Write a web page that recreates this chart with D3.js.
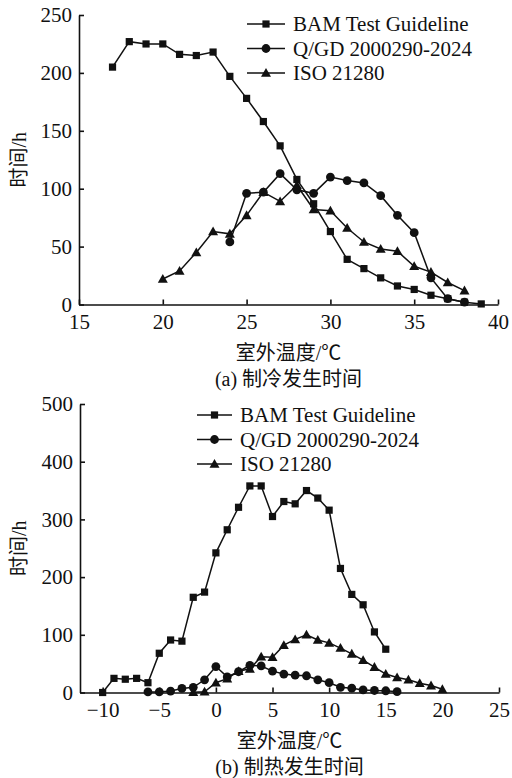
<!DOCTYPE html>
<html>
<head>
<meta charset="utf-8">
<script src="https://cdn.jsdelivr.net/npm/d3@7"></script>
<style>
  body { margin: 0; background: #fff; }
  svg, svg text { font-family: "Liberation Serif", "Times New Roman", "Noto Sans CJK SC", serif; }
</style>
</head>
<body>
<div id="chart"></div>
<script>
'use strict';

const seriesNames = ['BAM Test Guideline', 'Q/GD 2000290-2024', 'ISO 21280'];
const markerShapes = ['square', 'circle', 'triangle'];

// (a) cooling
const coolBamT = [17, 18, 19, 20, 21, 22, 23, 24, 25, 26, 27, 28, 29, 30, 31, 32, 33, 34, 35, 36, 37, 38, 39];
const coolBam = [205, 227, 225, 225, 216, 215, 218, 197, 178, 158, 137, 108, 87, 63, 39, 31, 23, 16, 13, 8, 5, 2, 0.5];
const coolQgdT = [24, 25, 26, 27, 28, 29, 30, 31, 32, 33, 34, 35, 36, 37, 38];
const coolQgd = [54, 96, 97, 113, 99, 96, 110, 107, 105, 94, 77, 62, 23, 5, 2];
const coolIsoT = [20, 21, 22, 23, 24, 25, 26, 27, 28, 29, 30, 31, 32, 33, 34, 35, 36, 37, 38];
const coolIso = [22, 29, 45, 63, 61, 77, 97, 89, 103, 82, 81, 66, 54, 48, 46, 33, 28, 19, 12];

// (b) heating
const heatBamT = [-10, -9, -8, -7, -6, -5, -4, -3, -2, -1, 0, 1, 2, 3, 4, 5, 6, 7, 8, 9, 10, 11, 12, 13, 14, 15];
const heatBam = [0, 24.5, 23, 24.5, 17, 68, 91, 89, 165, 174, 242, 282, 321, 358, 358, 305, 331, 327, 350, 337, 316, 215, 170, 152, 105, 75];
const heatQgdT = [-6, -5, -4, -3, -2, -1, 0, 1, 2, 3, 4, 5, 6, 7, 8, 9, 10, 11, 12, 13, 14, 15, 16];
const heatQgd = [1, 1, 2.5, 7, 9, 22, 45, 27, 36, 47, 46, 37, 32, 30, 29, 22, 17, 9, 7.5, 4.5, 3.5, 3, 1.5];
const heatIsoT = [-2, -1, 0, 1, 2, 3, 4, 5, 6, 7, 8, 9, 10, 11, 12, 13, 14, 15, 16, 17, 18, 19, 20];
const heatIso = [0.6, 1.3, 17, 24, 37, 41, 62, 61, 82, 92, 100, 91, 86, 77, 67, 56, 44, 32, 26, 22, 16, 12, 5.5];

const coolXTicks = [15, 20, 25, 30, 35, 40];
const coolYTicks = [0, 50, 100, 150, 200, 250];
const heatXTicks = [-10, -5, 0, 5, 10, 15, 20, 25];
const heatYTicks = [0, 100, 200, 300, 400, 500];

const xTitle = '室外温度/℃';
const yTitle = '时间/h';
const captionA = '(a) 制冷发生时间';
const captionB = '(b) 制热发生时间';

const FONT = '"Liberation Serif", "Times New Roman", "Noto Sans CJK SC", serif';

const svg = d3.select('#chart').append('svg')
    .attr('width', 512)
    .attr('height', 778)
    .attr('font-family', FONT);

const fmt = d => d < 0 ? '\u2212' + Math.abs(d) : String(d);

function marker(g, shape) {
    if (shape === 'square') {
        g.append('rect').attr('x', -3.6).attr('y', -3.6).attr('width', 7.2).attr('height', 7.2);
    } else if (shape === 'circle') {
        g.append('circle').attr('r', 4.4);
    } else {
        g.append('path').attr('d', 'M0,-5L5,3.8L-5,3.8Z');
    }
}

function styleAxis(a) {
    a.attr('font-family', FONT).attr('font-size', 21);
    a.selectAll('text').attr('fill', '#111');
    a.selectAll('line,path').attr('stroke', '#111').attr('stroke-width', 1.6);
}

function panel(opts) {
    const x = d3.scaleLinear().domain(opts.xDomain).range([opts.left, opts.right]);
    const y = d3.scaleLinear().domain(opts.yDomain).range([opts.bottom, opts.top]);
    const g = svg.append('g');

    g.append('g')
        .attr('transform', `translate(0,${opts.bottom})`)
        .call(d3.axisBottom(x).tickValues(opts.xTicks).tickFormat(fmt).tickSizeInner(-5).tickSizeOuter(0).tickPadding(10))
        .call(styleAxis);

    g.append('g')
        .attr('transform', `translate(${opts.left},0)`)
        .call(d3.axisLeft(y).tickValues(opts.yTicks).tickFormat(fmt).tickSizeInner(-5).tickSizeOuter(0).tickPadding(7))
        .call(styleAxis);

    const line = d3.line().x(d => x(d[0])).y(d => y(d[1]));

    opts.series.forEach((s, i) => {
        const pts = s.t.map((t, k) => [t, s.v[k]]);
        g.append('path')
            .datum(pts)
            .attr('d', line)
            .attr('fill', 'none')
            .attr('stroke', '#111')
            .attr('stroke-width', 1.5);
        g.append('g').selectAll('g')
            .data(pts)
            .join('g')
            .attr('transform', d => `translate(${x(d[0])},${y(d[1])})`)
            .attr('fill', '#111')
            .each(function () { marker(d3.select(this), markerShapes[i]); });
    });

    // legend
    const lg = g.append('g').attr('transform', `translate(${opts.legendX},${opts.legendY})`);
    seriesNames.forEach((name, i) => {
        const row = lg.append('g').attr('transform', `translate(0,${i * 24.5})`);
        row.append('line').attr('x1', 0).attr('x2', opts.legendLen).attr('stroke', '#111').attr('stroke-width', 1.5);
        const m = row.append('g').attr('transform', `translate(${opts.legendLen / 2},0)`).attr('fill', '#111');
        marker(m, markerShapes[i]);
        row.append('text')
            .attr('x', opts.legendLen + 8)
            .attr('dy', '0.35em')
            .attr('font-size', 21)
            .attr('fill', '#111')
            .text(name);
    });

    const cx = (opts.left + opts.right) / 2;
    g.append('text')
        .attr('x', cx).attr('y', opts.bottom + 55)
        .attr('text-anchor', 'middle')
        .attr('font-size', 20)
        .attr('fill', '#111')
        .text(xTitle);
    g.append('text')
        .attr('x', cx).attr('y', opts.bottom + 81)
        .attr('text-anchor', 'middle')
        .attr('font-size', 20)
        .attr('fill', '#111')
        .text(opts.caption);
    g.append('text')
        .attr('transform', `translate(26,${(opts.top + opts.bottom) / 2}) rotate(-90)`)
        .attr('text-anchor', 'middle')
        .attr('font-size', 20)
        .attr('fill', '#111')
        .text(yTitle);
}

panel({
    left: 79, right: 498, top: 15, bottom: 304.5,
    xDomain: [15, 40], yDomain: [0, 250],
    xTicks: coolXTicks, yTicks: coolYTicks,
    series: [
        { t: coolBamT, v: coolBam },
        { t: coolQgdT, v: coolQgd },
        { t: coolIsoT, v: coolIso }
    ],
    legendX: 247, legendY: 24, legendLen: 38,
    caption: captionA
});

panel({
    left: 80, right: 499, top: 404, bottom: 692.5,
    xDomain: [-12, 25], yDomain: [0, 500],
    xTicks: heatXTicks, yTicks: heatYTicks,
    series: [
        { t: heatBamT, v: heatBam },
        { t: heatQgdT, v: heatQgd },
        { t: heatIsoT, v: heatIso }
    ],
    legendX: 197, legendY: 415, legendLen: 35,
    caption: captionB
});
</script>
</body>
</html>
